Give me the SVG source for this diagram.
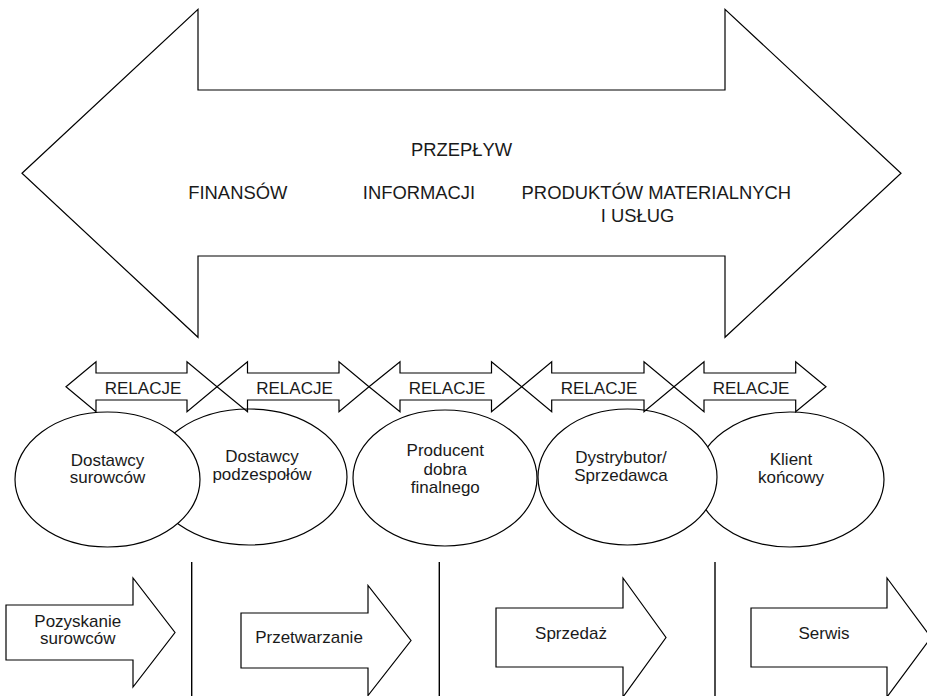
<svg xmlns="http://www.w3.org/2000/svg" width="927" height="696" viewBox="0 0 927 696">
<style>
.s{fill:#fff;stroke:#000;stroke-width:1.2}
.o{fill:none;stroke:#000;stroke-width:1.2}
.ln{stroke:#000;stroke-width:1.4}
text{font-family:"Liberation Sans",Arial,sans-serif;fill:#1a1a1a;text-anchor:middle}
.b{font-size:18.4px}
.m{font-size:17px}
</style>
<rect width="927" height="696" fill="#fff"/>
<g id="flow">
<polygon class="s" points="22,173.3 198,9.3 198,90 725,90 725,9.3 901,173.3 725,337.3 725,256 198,256 198,337.3"/>
<text class="b" x="461.5" y="156">PRZEPŁYW</text>
<text class="b" x="237.8" y="199.3">FINANSÓW</text>
<text class="b" x="419" y="199.3">INFORMACJI</text>
<text class="b" x="656.3" y="199.3">PRODUKTÓW MATERIALNYCH</text>
<text class="b" x="637.5" y="221.7">I USŁUG</text>
</g>
<g id="e2"><ellipse class="s" cx="249" cy="477" rx="98" ry="68"/><text class="m" x="262" y="462">Dostawcy</text><text class="m" x="262" y="480">podzespołów</text></g>
<g id="e1"><ellipse class="s" cx="107.5" cy="479.5" rx="92.5" ry="67.5"/><text class="m" x="107.5" y="465.7">Dostawcy</text><text class="m" x="107.5" y="483.3">surowców</text></g>
<g id="e3"><ellipse class="s" cx="445" cy="478" rx="92" ry="68"/><text class="m" x="445.3" y="456">Producent</text><text class="m" x="445.3" y="475">dobra</text><text class="m" x="445.3" y="493.3">finalnego</text></g>
<g id="e5"><ellipse class="s" cx="790" cy="479.5" rx="94" ry="67.5"/><text class="m" x="791" y="465">Klient</text><text class="m" x="791" y="483">końcowy</text></g>
<g id="e4"><ellipse class="s" cx="627.5" cy="477" rx="89.5" ry="68"/><text class="m" x="621" y="463">Dystrybutor/</text><text class="m" x="621" y="481">Sprzedawca</text></g>
<g id="connectors">
<g id="rel1"><polygon class="o" points="66,386.7 96,361.7 96,373 187,373 187,361.7 217,386.7 187,411.7 187,400 96,400 96,411.7"/><text class="m" x="143" y="394">RELACJE</text></g>
<g id="rel2"><polygon class="o" points="217,386.7 247.5,361.7 247.5,373 339,373 339,361.7 369,386.7 339,411.7 339,400 247.5,400 247.5,411.7"/><text class="m" x="294.5" y="394">RELACJE</text></g>
<g id="rel3"><polygon class="o" points="369,386.7 400,361.7 400,373 491.5,373 491.5,361.7 521.7,386.7 491.5,411.7 491.5,400 400,400 400,411.7"/><text class="m" x="447" y="394">RELACJE</text></g>
<g id="rel4"><polygon class="o" points="521.7,386.7 551.7,361.7 551.7,373 644,373 644,361.7 674,386.7 644,411.7 644,400 551.7,400 551.7,411.7"/><text class="m" x="599" y="394">RELACJE</text></g>
<g id="rel5"><polygon class="o" points="674,386.7 704,361.7 704,373 795.7,373 795.7,361.7 826,386.7 795.7,411.7 795.7,400 704,400 704,411.7"/><text class="m" x="751" y="394">RELACJE</text></g>
</g>
<g id="dividers">
<line class="ln" x1="191.7" y1="562" x2="191.7" y2="696"/>
<line class="ln" x1="439.3" y1="562" x2="439.3" y2="696"/>
<line class="ln" x1="715" y1="562" x2="715" y2="696"/>
</g>
<g id="a1"><polygon class="s" points="6,605 133,605 133,578 175,632.5 133,687 133,660 6,660"/><text class="m" x="77.8" y="626.7">Pozyskanie</text><text class="m" x="77.8" y="644.3">surowców</text></g>
<g id="a2"><polygon class="s" points="241,613 368,613 368,585.5 411,640.5 368,695.5 368,668 241,668"/><text class="m" x="309" y="643.3">Przetwarzanie</text></g>
<g id="a3"><polygon class="s" points="496,608 623,608 623,578 666,637.5 623,697 623,667 496,667"/><text class="m" x="571" y="639">Sprzedaż</text></g>
<g id="a4"><polygon class="s" points="751,608 887,608 887,578 931,637.5 887,697 887,667 751,667"/><text class="m" x="824" y="639">Serwis</text></g>
</svg>
